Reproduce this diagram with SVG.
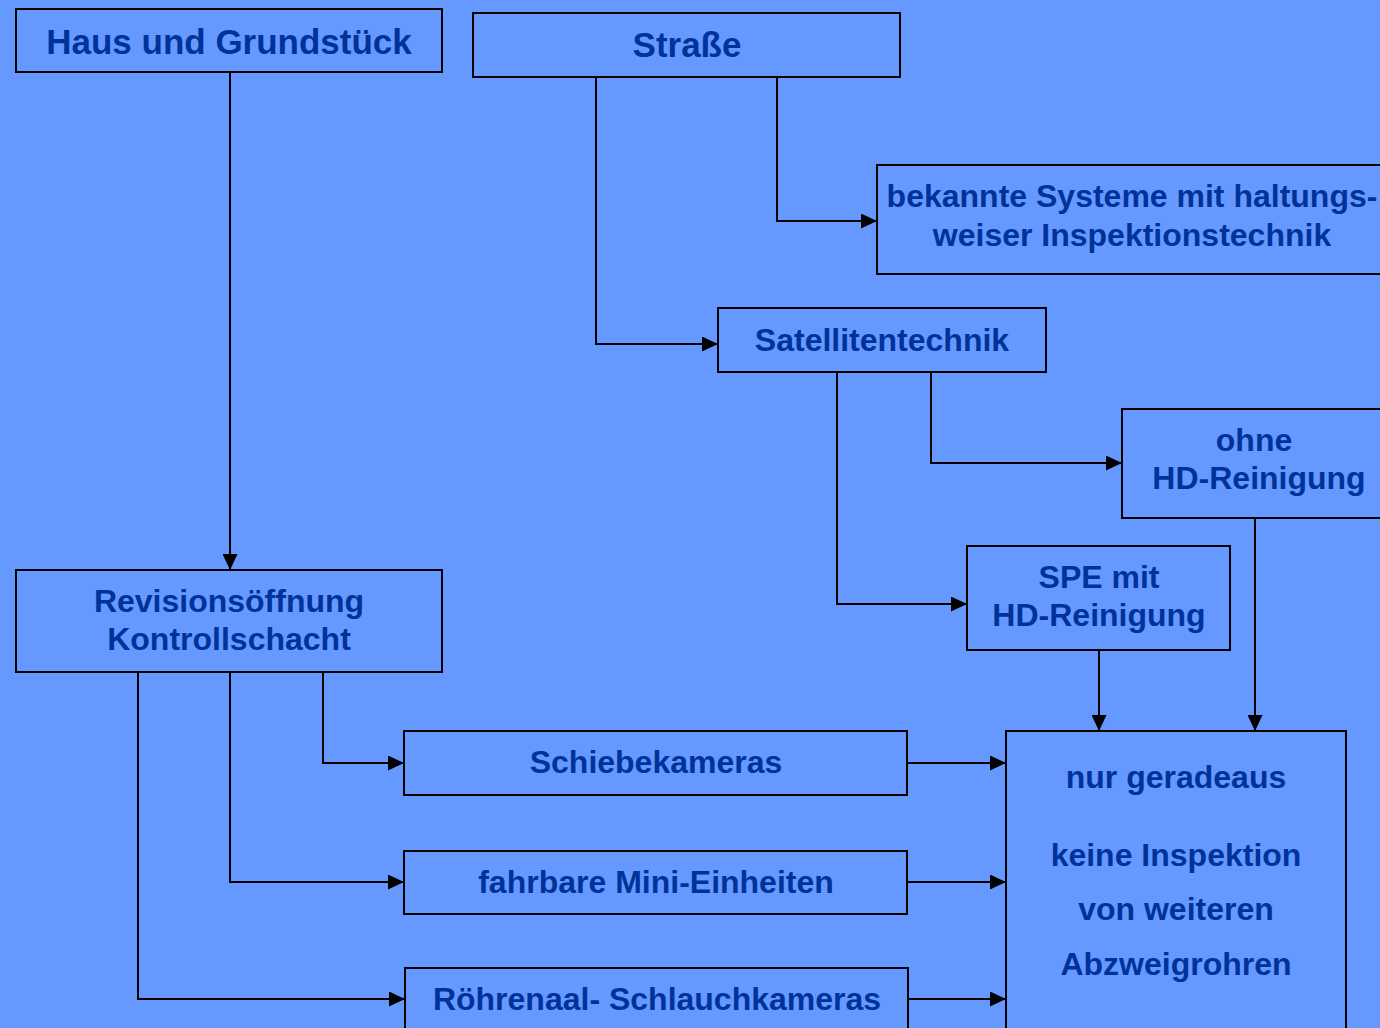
<svg xmlns="http://www.w3.org/2000/svg" width="1380" height="1028" viewBox="0 0 1380 1028">
<defs>
<marker id="arr" markerUnits="userSpaceOnUse" markerWidth="16" markerHeight="15" refX="16" refY="7.5" orient="auto">
<path d="M0,0 L16,7.5 L0,15 Z" fill="#000"/>
</marker>
<style>
.box{fill:#6699FF;stroke:#000;stroke-width:2}
.t{font-family:"Liberation Sans",Arial,sans-serif;font-weight:bold;fill:#003399;text-anchor:middle;font-size:32px}
.big{font-size:35px}
.c{fill:none;stroke:#000;stroke-width:2;marker-end:url(#arr)}
</style>
</defs>
<rect width="1380" height="1028" fill="#6699FF"/>
<g id="connectors">
<path class="c" d="M230,72 V570"/>
<path class="c" d="M777,77 V221 H877"/>
<path class="c" d="M596,77 V344 H718"/>
<path class="c" d="M931,372 V463 H1122"/>
<path class="c" d="M837,372 V604 H967"/>
<path class="c" d="M1099,650 V731"/>
<path class="c" d="M1255,518 V731"/>
<path class="c" d="M323,672 V763 H404"/>
<path class="c" d="M230,672 V882 H404"/>
<path class="c" d="M138,672 V999 H405"/>
<path class="c" d="M907,763 H1006"/>
<path class="c" d="M907,882 H1006"/>
<path class="c" d="M908,999 H1006"/>
</g>
<g id="haus"><rect class="box" x="16" y="9" width="426" height="63"/><text class="t big" x="229" y="54">Haus und Grundstück</text></g>
<g id="strasse"><rect class="box" x="473" y="13" width="427" height="64"/><text class="t big" x="687" y="57">Straße</text></g>
<g id="bekannte"><rect class="box" x="877" y="165" width="510" height="109"/><text class="t" x="1132" y="207">bekannte Systeme mit haltungs-</text><text class="t" x="1132" y="246">weiser Inspektionstechnik</text></g>
<g id="satellit"><rect class="box" x="718" y="308" width="328" height="64"/><text class="t" x="882" y="351">Satellitentechnik</text></g>
<g id="ohne"><rect class="box" x="1122" y="409" width="265" height="109"/><text class="t" x="1254" y="451">ohne</text><text class="t" x="1259" y="489">HD-Reinigung</text></g>
<g id="spe"><rect class="box" x="967" y="546" width="263" height="104"/><text class="t" x="1099" y="588">SPE mit</text><text class="t" x="1099" y="626">HD-Reinigung</text></g>
<g id="revision"><rect class="box" x="16" y="570" width="426" height="102"/><text class="t" x="229" y="612">Revisionsöffnung</text><text class="t" x="229" y="650">Kontrollschacht</text></g>
<g id="schiebe"><rect class="box" x="404" y="731" width="503" height="64"/><text class="t" x="656" y="773">Schiebekameras</text></g>
<g id="fahrbare"><rect class="box" x="404" y="851" width="503" height="63"/><text class="t" x="656" y="893">fahrbare Mini-Einheiten</text></g>
<g id="roehrenaal"><rect class="box" x="405" y="968" width="503" height="70"/><text class="t" x="657" y="1010">Röhrenaal- Schlauchkameras</text></g>
<g id="nur"><rect class="box" x="1006" y="731" width="340" height="310"/><text class="t" x="1176" y="788">nur geradeaus</text><text class="t" x="1176" y="866">keine Inspektion</text><text class="t" x="1176" y="920">von weiteren</text><text class="t" x="1176" y="975">Abzweigrohren</text></g>
</svg>
